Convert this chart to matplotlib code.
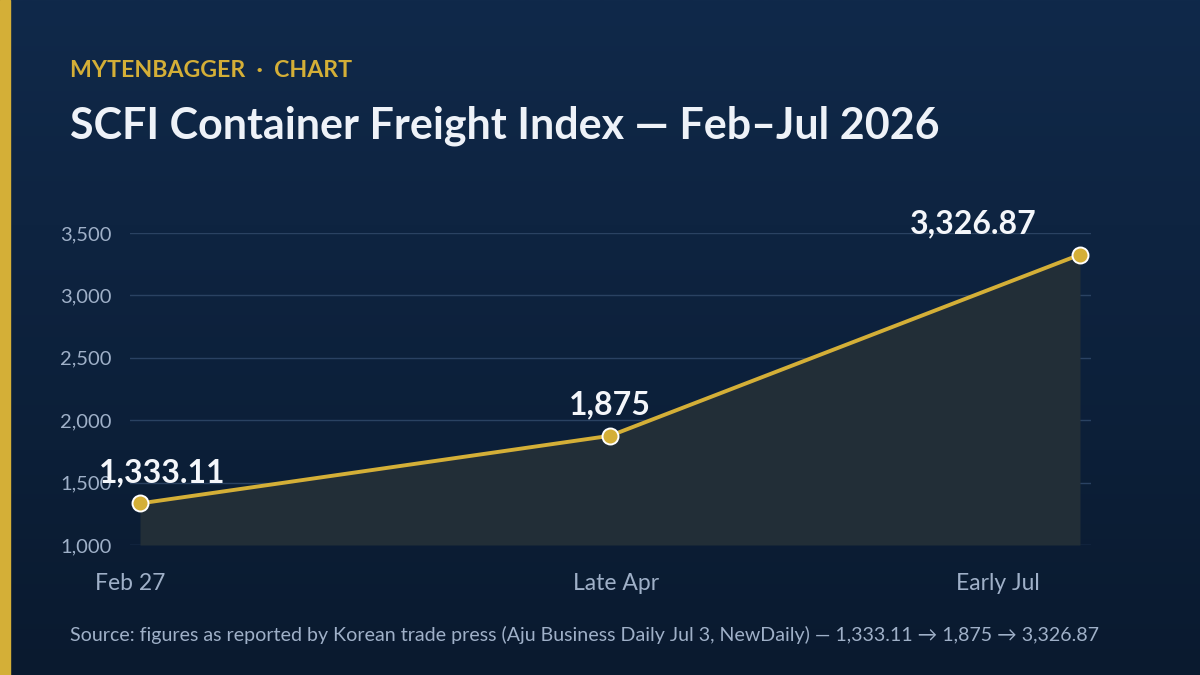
import numpy as np
import matplotlib.pyplot as plt
import matplotlib.transforms as mtransforms
from matplotlib.patches import Rectangle

plt.rcParams['font.family'] = ['Lato', 'DejaVu Sans']

# data
periods = ['Feb 27', 'Late Apr', 'Early Jul']
scfi = [1333.11, 1875, 3326.87]
value_labels = ['1,333.11', '1,875', '3,326.87']
y_ticks = [1000, 1500, 2000, 2500, 3000, 3500]

GOLD = '#d4af37'
MUTED = '#9fb0c8'
GRID = '#2a4262'

fig = plt.figure(figsize=(12, 6.75), dpi=100)

# background gradient
bg = fig.add_axes([0, 0, 1, 1], zorder=-10)
grad = np.linspace(0, 1, 256).reshape(-1, 1)
top = np.array([16, 41, 74]) / 255
bot = np.array([10, 26, 47]) / 255
img = top + (bot - top) * grad[..., None]
bg.imshow(img, aspect='auto', extent=[0, 1, 0, 1])
bg.set_axis_off()
fig.patches.append(Rectangle((0, 0), 10 / 1200, 1, transform=fig.transFigure,
                             color=GOLD, zorder=5))

fig.text(70 / 1200, 1 - 77 / 675, 'MYTENBAGGER  ·  CHART', color=GOLD,
         fontsize=16.7, fontweight='bold', va='baseline')
fig.text(70 / 1200, 1 - 138 / 675, 'SCFI Container Freight Index — Feb–Jul 2026',
         color='#eef2f8', fontsize=31, fontweight='bold', va='baseline')

ax = fig.add_axes([130 / 1200, 1 - 545 / 675, 961 / 1200, 312 / 675])
ax.set_facecolor('none')
x = np.arange(len(scfi))
ax.fill_between(x, scfi, 1000, color='#222e37', zorder=1, linewidth=0)
ax.plot(x, scfi, color=GOLD, linewidth=2.8, zorder=3,
        marker='o', markersize=11.5, markerfacecolor=GOLD,
        markeredgecolor='white', markeredgewidth=1.4, clip_on=False)

ax.set_xlim(-10 / 470, 2 + 11 / 470)
ax.set_ylim(1000, 3500)
ax.set_yticks(y_ticks)
ax.set_yticklabels([f'{v:,}' for v in y_ticks])
ax.grid(axis='y', color=GRID, linewidth=1)
ax.set_axisbelow(True)
for s in ax.spines.values():
    s.set_visible(False)
ax.tick_params(axis='y', length=0, pad=13, labelsize=14.5, labelcolor=MUTED)
ax.tick_params(axis='x', length=0, pad=20, labelsize=16.5, labelcolor=MUTED)
ax.set_xticks(x)
ax.set_xticklabels(periods)

# nudge x labels like the original
shifts = [-10, 6, -82]
for lab, dx in zip(ax.get_xticklabels(), shifts):
    lab.set_transform(lab.get_transform() +
                      mtransforms.ScaledTranslation(dx / 100, 0, fig.dpi_scale_trans))

label_dx = [22, 0, -107]
for xi, v, txt, dx in zip(x, scfi, value_labels, label_dx):
    ax.annotate(txt, (xi, v), xytext=(dx, 21), textcoords='offset pixels',
                ha='center', va='baseline', color='#f4f6fa', fontsize=23,
                fontweight='bold', zorder=5, annotation_clip=False)

fig.text(70 / 1200, 1 - 641 / 675,
         'Source: figures as reported by Korean trade press (Aju Business Daily Jul 3, NewDaily) — 1,333.11 → 1,875 → 3,326.87',
         color=MUTED, fontsize=14.1, va='baseline')

fig.savefig('out.png', dpi=100)
